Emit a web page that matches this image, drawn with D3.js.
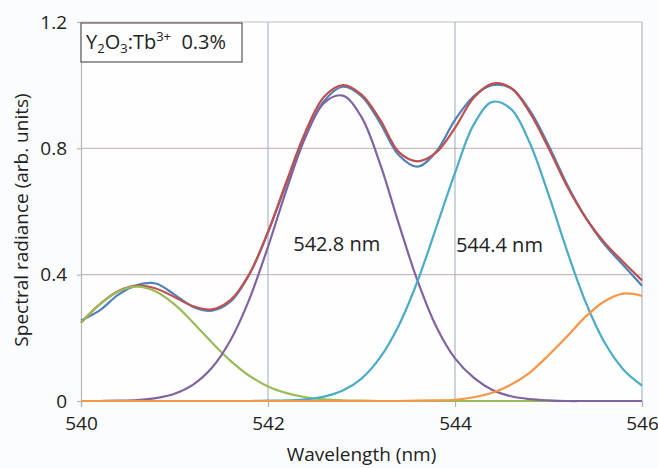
<!DOCTYPE html>
<html>
<head>
<meta charset="utf-8">
<script src="https://cdn.jsdelivr.net/npm/d3@7"></script>
<style>
  body { margin: 0; background: #fbfcfd; }
  svg { display: block; font-family: "Open Sans", sans-serif; }
</style>
</head>
<body>
<div id="chart"></div>
<script>
// wavelength samples (nm)
const wavelengths = [540.0, 540.2, 540.4, 540.6, 540.8, 541.0, 541.2, 541.4, 541.6, 541.8,
  542.0, 542.2, 542.4, 542.6, 542.8, 543.0, 543.2, 543.4, 543.6, 543.8,
  544.0, 544.2, 544.4, 544.6, 544.8, 545.0, 545.2, 545.4, 545.6, 545.8, 546.0];

// measured spectrum
const measured = [0.255, 0.287, 0.337, 0.367, 0.372, 0.337, 0.298, 0.286, 0.315, 0.400,
  0.535, 0.690, 0.840, 0.950, 0.995, 0.965, 0.880, 0.778, 0.742, 0.790,
  0.890, 0.965, 1.000, 0.990, 0.920, 0.810, 0.685, 0.580, 0.495, 0.430, 0.365];

// sum of fitted bands
const fitSum = [0.248, 0.306, 0.348, 0.365, 0.356, 0.329, 0.300, 0.290, 0.320, 0.402,
  0.535, 0.697, 0.852, 0.963, 1.000, 0.970, 0.890, 0.788, 0.759, 0.787,
  0.865, 0.960, 1.005, 0.991, 0.913, 0.801, 0.679, 0.579, 0.501, 0.440, 0.382];

// fitted bands
const band1 = [0.248, 0.306, 0.347, 0.362, 0.347, 0.306, 0.248, 0.185, 0.127, 0.080,
  0.046, 0.025, 0.012, 0.005, 0.002, 0.001, 0, 0, 0, 0,
  0, 0, 0, 0, 0, 0, 0, 0, 0, 0, 0];
const band2 = [0, 0, 0.001, 0.003, 0.009, 0.023, 0.052, 0.105, 0.193, 0.322,
  0.488, 0.671, 0.835, 0.944, 0.967, 0.899, 0.750, 0.560, 0.380, 0.235,
  0.135, 0.074, 0.035, 0.015, 0.006, 0.002, 0, 0, 0, 0, 0];
const band3 = [0, 0, 0, 0, 0, 0, 0, 0, 0, 0,
  0.001, 0.002, 0.005, 0.014, 0.033, 0.071, 0.138, 0.240, 0.380, 0.550,
  0.722, 0.875, 0.947, 0.924, 0.817, 0.654, 0.474, 0.311, 0.185, 0.100, 0.049];
const band4 = [0, 0, 0, 0, 0, 0, 0, 0, 0, 0,
  0, 0, 0, 0, 0, 0, 0, 0, 0.001, 0.002,
  0.004, 0.012, 0.026, 0.052, 0.090, 0.145, 0.205, 0.268, 0.316, 0.340, 0.333];

const xTicks = [540, 542, 544, 546];
const yTicks = [0, 0.4, 0.8, 1.2];
const yTickLabels = ["0", "0.4", "0.8", "1.2"];

const series = [
  {name: "measured", values: measured, color: "#4f81bd"},
  {name: "fit", values: fitSum, color: "#c0504d"},
  {name: "band1", values: band1, color: "#9bbb59"},
  {name: "band2", values: band2, color: "#8064a2"},
  {name: "band3", values: band3, color: "#4bacc6"},
  {name: "band4", values: band4, color: "#f79646"}
];

const W = 658, H = 468;
const margin = {top: 22, right: 16, bottom: 67, left: 81};
const width = W - margin.left - margin.right,
      height = H - margin.top - margin.bottom;

const svg = d3.select("#chart").append("svg")
  .attr("width", W).attr("height", H);

const g = svg.append("g")
  .attr("transform", `translate(${margin.left},${margin.top})`);

const x = d3.scaleLinear().domain([540, 546]).range([0, width]);
const y = d3.scaleLinear().domain([0, 1.2]).range([height, 0]);

g.append("rect")
  .attr("width", width).attr("height", height)
  .attr("fill", "#fefefe");

// gridlines
g.selectAll(".hgrid").data(yTicks.slice(1)).enter().append("line")
  .attr("x1", 0).attr("x2", width)
  .attr("y1", d => y(d)).attr("y2", d => y(d))
  .attr("stroke", "#c9bcbc").attr("stroke-width", 1.2);
g.selectAll(".vgrid").data(xTicks.slice(1)).enter().append("line")
  .attr("y1", 0).attr("y2", height)
  .attr("x1", d => x(d)).attr("x2", d => x(d))
  .attr("stroke", "#a9b7c4").attr("stroke-width", 1.2);

// axes
const xAxis = g.append("g")
  .attr("transform", `translate(0,${height})`)
  .call(d3.axisBottom(x).tickValues(xTicks).tickFormat(d3.format("d")).tickSize(6).tickPadding(10));
const yAxis = g.append("g")
  .call(d3.axisLeft(y).tickValues(yTicks).tickFormat((d, i) => yTickLabels[i]).tickSize(4).tickPadding(10));
[xAxis, yAxis].forEach(a => {
  a.select(".domain").attr("stroke", "#b5b5b5").attr("stroke-width", 1.2);
  a.selectAll(".tick line").attr("stroke", "#b5b5b5").attr("stroke-width", 1.2);
  a.selectAll("text").attr("font-size", 19).attr("fill", "#222")
    .attr("font-family", "'Open Sans', sans-serif");
});

// curves
const line = d3.line()
  .x((d, i) => x(wavelengths[i]))
  .y(d => y(d))
  .curve(d3.curveCatmullRom);

g.selectAll(".series").data(series).enter().append("path")
  .attr("d", d => line(d.values))
  .attr("fill", "none")
  .attr("stroke", d => d.color)
  .attr("stroke-width", 2.2);

// peak labels
g.append("text").attr("x", x(542.27)).attr("y", y(0.475))
  .attr("font-size", 20).attr("fill", "#222").text("542.8 nm");
g.append("text").attr("x", x(544.01)).attr("y", y(0.472))
  .attr("font-size", 20).attr("fill", "#222").text("544.4 nm");

// sample box
const box = g.append("g").attr("transform", "translate(0,1)");
box.append("rect")
  .attr("width", 161).attr("height", 39)
  .attr("fill", "#fefefe").attr("stroke", "#555").attr("stroke-width", 1.2);
const lt = box.append("text").attr("x", 5).attr("y", 26)
  .attr("font-size", 20).attr("fill", "#222");
lt.append("tspan").text("Y");
lt.append("tspan").attr("font-size", 13).attr("dy", 4).text("2");
lt.append("tspan").attr("dy", -4).text("O");
lt.append("tspan").attr("font-size", 13).attr("dy", 4).text("3");
lt.append("tspan").attr("dy", -4).text(":Tb");
lt.append("tspan").attr("font-size", 13).attr("dy", -8).text("3+");
lt.append("tspan").attr("dy", 8).text("\u00a0\u00a00.3%");

// axis titles
svg.append("text")
  .attr("x", margin.left + width / 2).attr("y", 461)
  .attr("text-anchor", "middle").attr("font-size", 19).attr("fill", "#222")
  .text("Wavelength (nm)");
svg.append("text")
  .attr("transform", `translate(28,${margin.top + 198}) rotate(-90)`)
  .attr("text-anchor", "middle").attr("font-size", 19).attr("fill", "#222")
  .text("Spectral radiance (arb. units)");
</script>
</body>
</html>
